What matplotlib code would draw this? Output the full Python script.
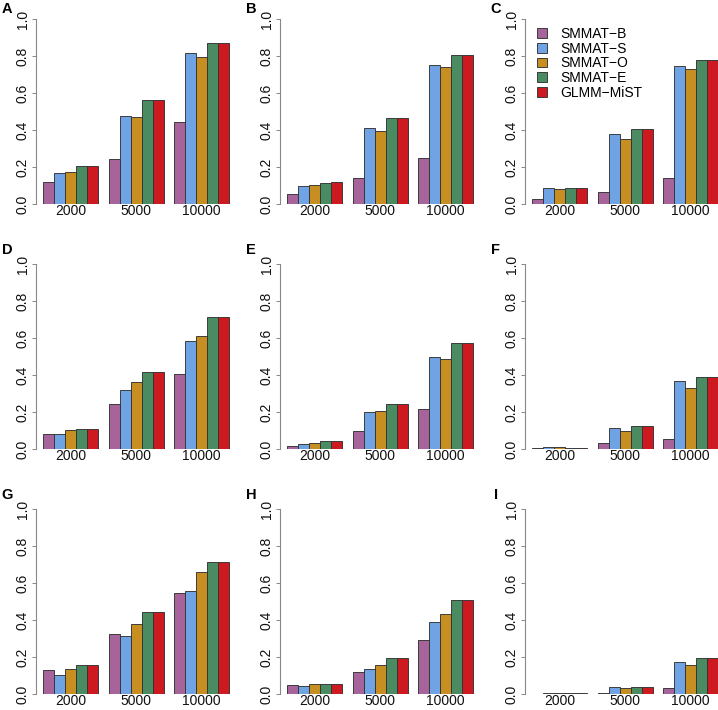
import numpy as np
import matplotlib.pyplot as plt
from matplotlib.patches import Patch

plt.rcParams['font.family'] = ['Liberation Sans', 'DejaVu Sans']

sizes = ["2000", "5000", "10000"]
methods = ["SMMAT\u2212B", "SMMAT\u2212S", "SMMAT\u2212O", "SMMAT\u2212E", "GLMM\u2212MiST"]
colors = ["#A6649A", "#6FA3E3", "#C78F22", "#4A8B62", "#CC1A20"]
letters = ["A", "B", "C", "D", "E", "F", "G", "H", "I"]

# power per method (rows) and sample size (cols)
pow_A = [[0.121, 0.245, 0.442], [0.166, 0.473, 0.818], [0.175, 0.469, 0.794],
         [0.208, 0.561, 0.870], [0.208, 0.561, 0.870]]
pow_B = [[0.054, 0.143, 0.247], [0.099, 0.412, 0.753], [0.101, 0.394, 0.738],
         [0.116, 0.464, 0.803], [0.117, 0.464, 0.803]]
pow_C = [[0.027, 0.063, 0.141], [0.088, 0.377, 0.746], [0.081, 0.350, 0.731],
         [0.085, 0.403, 0.778], [0.088, 0.403, 0.778]]
pow_D = [[0.081, 0.241, 0.407], [0.081, 0.319, 0.584], [0.103, 0.362, 0.613],
         [0.108, 0.416, 0.712], [0.108, 0.416, 0.712]]
pow_E = [[0.018, 0.099, 0.218], [0.027, 0.200, 0.497], [0.032, 0.207, 0.486],
         [0.041, 0.243, 0.575], [0.041, 0.243, 0.575]]
pow_F = [[0.004, 0.032, 0.056], [0.011, 0.114, 0.369], [0.011, 0.099, 0.330],
         [0.005, 0.124, 0.387], [0.005, 0.124, 0.387]]
pow_G = [[0.128, 0.326, 0.547], [0.101, 0.311, 0.559], [0.137, 0.381, 0.658],
         [0.156, 0.441, 0.716], [0.156, 0.441, 0.716]]
pow_H = [[0.047, 0.117, 0.290], [0.043, 0.137, 0.387], [0.052, 0.156, 0.430],
         [0.052, 0.192, 0.509], [0.052, 0.192, 0.509]]
pow_I = [[0.002, 0.007, 0.031], [0.004, 0.036, 0.173], [0.004, 0.031, 0.156],
         [0.004, 0.036, 0.192], [0.004, 0.036, 0.192]]
panels = [pow_A, pow_B, pow_C, pow_D, pow_E, pow_F, pow_G, pow_H, pow_I]

W, H = 718, 710
fig = plt.figure(figsize=(W / 100, H / 100), dpi=100)

col_x = [36, 280, 525]     # pixel x of y axis
row_zero = [204, 449, 694]  # pixel y of 0.0
unit_x, unit_y = 10.92, 185
label_y = [9, 250, 495]

for idx, data in enumerate(panels):
    r, c = divmod(idx, 3)
    w = 18.36 * unit_x
    h = 1.04 * unit_y
    ax = fig.add_axes([col_x[c] / W, (H - row_zero[r]) / H, w / W, h / H])
    ax.set_xlim(0.32, 18.68)
    ax.set_ylim(0, 1.04)
    for m in range(len(methods)):
        xs = [1 + g * 6 + m + 0.5 for g in range(len(sizes))]
        ax.bar(xs, data[m], width=1, color=colors[m], edgecolor="#333333", linewidth=0.65)

    ax.set_xticks([1 + g * 6 + 2.5 for g in range(len(sizes))])
    ax.set_xticklabels(sizes, fontsize=10, color="#111111")
    ax.tick_params(axis="x", length=0, pad=0)
    yt = np.arange(0, 1.01, 0.2)
    ax.set_yticks(yt)
    ax.set_yticklabels([f"{v:.1f}" for v in yt], rotation=90, va="center",
                       fontsize=10, color="#111111")
    ax.tick_params(axis="y", length=3, width=0.7, color="#888888", pad=1.5)
    for s in ["top", "right", "bottom"]:
        ax.spines[s].set_visible(False)
    ax.spines["left"].set_bounds(0, 1)
    ax.spines["left"].set_color("#888888")
    ax.spines["left"].set_linewidth(0.8)

    fig.text((col_x[c] - 29) / W, 1 - label_y[r] / H, letters[idx],
             fontsize=10.5, fontweight="bold", ha="center", va="center")

handles = [Patch(facecolor=colors[m], edgecolor="#333333", linewidth=0.65) for m in range(5)]
fig.legend(handles, methods, loc="upper left", bbox_to_anchor=(537 / W, 1 - 27 / H),
           frameon=False, fontsize=10, borderpad=0, borderaxespad=0,
           handlelength=0.72, handleheight=0.72, handletextpad=0.95, labelspacing=0.05)

fig.savefig("out.png", dpi=100)
